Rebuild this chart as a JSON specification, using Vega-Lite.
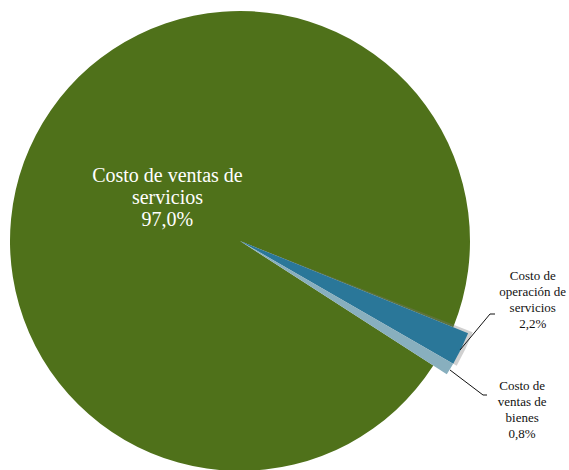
{
  "$schema": "https://vega.github.io/schema/vega-lite/v6.json",
  "autosize": {"type": "none"},
  "padding": {"left": 0, "top": 0, "right": 89, "bottom": 0},
  "width": 480,
  "height": 482,
  "background": "white",
  "config": {"view": {"stroke": null}},
  "data": {"values": [
    {"key": "op", "name": "Costo de\noperación de\nservicios", "value": 2.2, "order": 1},
    {"key": "bienes", "name": "Costo de\nventas de\nbienes", "value": 0.8, "order": 2},
    {"key": "serv", "name": "Costo de ventas de\nservicios", "value": 97.0, "order": 3}
  ]},
  "transform": [
    {"stack": "value", "groupby": [], "as": ["t0", "t1"], "sort": [{"field": "order", "order": "ascending"}]},
    {"calculate": "(datum.t0 + datum.t1) / 2", "as": "mid"},
    {"calculate": "datum.name + '\\n' + replace(format(datum.value, '.1f'), '.', ',') + '%'", "as": "label"}
  ],
  "layer": [
    {
      "transform": [{"filter": "datum.key == 'serv'"}],
      "mark": {"type": "arc", "outerRadius": 230},
      "encoding": {
        "theta": {"field": "t0", "type": "quantitative", "scale": {"domain": [0, 100], "range": [1.9548, 8.238], "zero": false}},
        "theta2": {"field": "t1"},
        "color": {"field": "key", "type": "nominal", "legend": null, "scale": {"domain": ["serv", "op", "bienes"], "range": ["#4F711A", "#2A7799", "#88AFBE"]}}
      }
    },
    {
      "transform": [{"filter": "datum.key == 'op'"}],
      "mark": {"type": "arc", "outerRadius": 250, "color": "#777777", "opacity": 0.35, "thetaOffset": -0.01},
      "encoding": {
        "theta": {"field": "t0", "type": "quantitative"},
        "theta2": {"field": "t1"}
      }
    },
    {
      "transform": [{"filter": "datum.key != 'serv'"}],
      "mark": {"type": "arc", "outerRadius": 246},
      "encoding": {
        "theta": {"field": "t0", "type": "quantitative"},
        "theta2": {"field": "t1"},
        "color": {"field": "key", "type": "nominal", "legend": null}
      }
    },
    {
      "transform": [{"filter": "datum.key == 'serv'"}],
      "mark": {"type": "text", "radius": 84, "font": "'Liberation Serif', 'Times New Roman', serif", "fontSize": 20, "lineHeight": 22, "lineBreak": "\n", "align": "center", "baseline": "middle", "color": "white", "dx": 2, "dy": -26},
      "encoding": {
        "theta": {"field": "mid", "type": "quantitative"},
        "text": {"field": "label"}
      }
    },
    {
      "transform": [{"filter": "datum.key == 'op'"}],
      "mark": {"type": "text", "radius": 300, "font": "'Liberation Serif', 'Times New Roman', serif", "fontSize": 13, "lineHeight": 16, "lineBreak": "\n", "align": "center", "baseline": "middle", "color": "#111", "dx": 23, "dy": -96},
      "encoding": {
        "theta": {"field": "mid", "type": "quantitative"},
        "text": {"field": "label"}
      }
    },
    {
      "transform": [{"filter": "datum.key == 'bienes'"}],
      "mark": {"type": "text", "radius": 300, "font": "'Liberation Serif', 'Times New Roman', serif", "fontSize": 13, "lineHeight": 16, "lineBreak": "\n", "align": "center", "baseline": "middle", "color": "#111", "dx": 26, "dy": -11},
      "encoding": {
        "theta": {"field": "mid", "type": "quantitative"},
        "text": {"field": "label"}
      }
    },
    {
      "data": {"values": [
        {"id": "a", "o": 1, "x": 220, "y": -109},
        {"id": "a", "o": 2, "x": 250, "y": -73},
        {"id": "a", "o": 3, "x": 255, "y": -73},
        {"id": "b", "o": 1, "x": 210, "y": -129},
        {"id": "b", "o": 2, "x": 243, "y": -154},
        {"id": "b", "o": 3, "x": 247, "y": -154}
      ]},
      "mark": {"type": "line", "color": "#111", "strokeWidth": 1},
      "encoding": {
        "x": {"field": "x", "type": "quantitative", "axis": null, "scale": {"domain": [-240, 240], "nice": false, "zero": false}},
        "y": {"field": "y", "type": "quantitative", "axis": null, "scale": {"domain": [-241, 241], "nice": false, "zero": false}},
        "detail": {"field": "id"},
        "order": {"field": "o"}
      }
    }
  ]
}
